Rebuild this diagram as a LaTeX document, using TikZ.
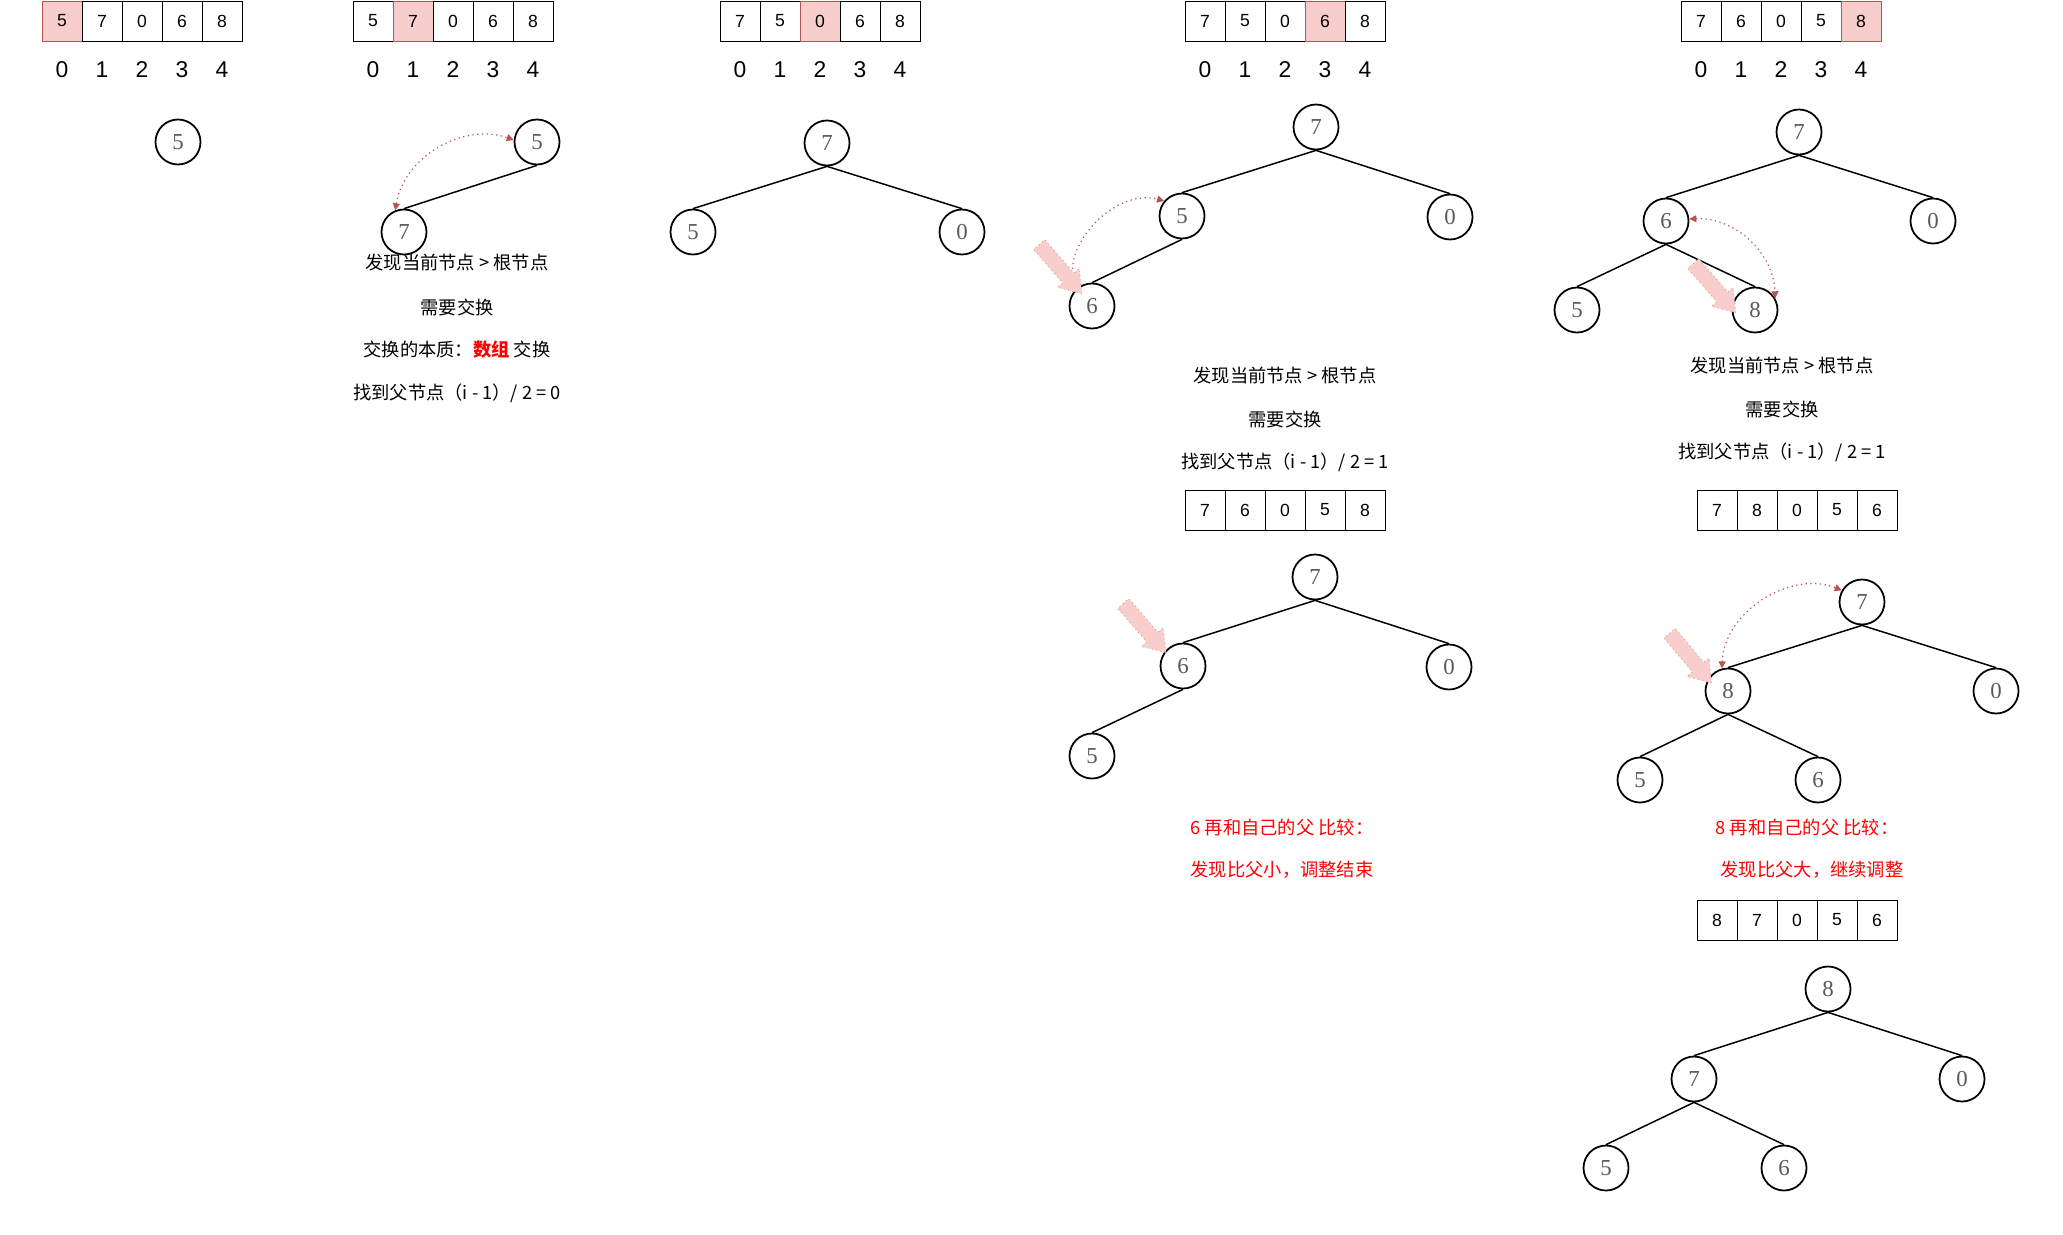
\documentclass[tikz,border=0pt]{standalone}
\usepackage{fontspec}
\setmainfont{Liberation Sans}
\newfontfamily\cjk{Noto Sans CJK SC}
\newfontfamily\numfont{Liberation Serif}
\usetikzlibrary{shapes.arrows, arrows.meta, positioning}
\definecolor{hlfill}{HTML}{F8CECC}
\definecolor{hlred}{HTML}{B85450}

\begin{document}
\begin{tikzpicture}[
  cell/.style={draw=black, line width=0.5pt, minimum width=0.8cm, minimum height=0.8cm,
               inner sep=0pt, outer sep=0pt, font=\fontsize{10}{12}\selectfont},
  cellhl/.style={cell, fill=hlfill, draw=hlred},
  idx/.style={font=\fontsize{13}{15}\selectfont, inner sep=0pt},
  heapnode/.style={circle, draw=black, line width=1pt, minimum size=0.9cm, inner sep=0pt,
                   font=\numfont\fontsize{13}{15}\selectfont, text=black!65},
  treeline/.style={draw=black, line width=0.85pt},
  swapline/.style={draw=hlred, dotted, line width=0.7pt,
                   {Triangle[length=4pt,width=4pt]}-{Triangle[length=4pt,width=4pt]}},
  hintarrow/.style={single arrow, fill=hlfill, draw=hlred!60, dotted, line width=0.5pt,
                    minimum height=1.3cm, inner xsep=0pt, inner ysep=0.14cm,
                    single arrow head extend=0.14cm, single arrow tip angle=70},
  note/.style={font=\cjk\fontsize{10.4}{12}\selectfont, inner sep=1pt},
  rednote/.style={note, text=red}
]
\useasboundingbox (0,0) rectangle (41.26,-24.68);

%--------------------------------------------------------------
% Array in alto con gli indici
%--------------------------------------------------------------
\foreach \v/\s [count=\i from 0] in {5/cellhl,7/cell,0/cell,6/cell,8/cell}
  \node[\s] (a1-\i) at (1.24+0.8*\i,-0.42) {\v};
\foreach \v/\s [count=\i from 0] in {5/cell,7/cellhl,0/cell,6/cell,8/cell}
  \node[\s] (a2-\i) at (7.46+0.8*\i,-0.42) {\v};
\foreach \v/\s [count=\i from 0] in {7/cell,5/cell,0/cellhl,6/cell,8/cell}
  \node[\s] (a3-\i) at (14.80+0.8*\i,-0.42) {\v};
\foreach \v/\s [count=\i from 0] in {7/cell,5/cell,0/cell,6/cellhl,8/cell}
  \node[\s] (a4-\i) at (24.10+0.8*\i,-0.42) {\v};
\foreach \v/\s [count=\i from 0] in {7/cell,6/cell,0/cell,5/cell,8/cellhl}
  \node[\s] (a5-\i) at (34.02+0.8*\i,-0.42) {\v};

\foreach \x [count=\k] in {1.24, 7.46, 14.80, 24.10, 34.02}{
  \foreach \i in {0,...,4}{ \node[idx] (i\k-\i) at (\x+0.8*\i,-1.40) {\i}; }
}

%--------------------------------------------------------------
% Array intermedi
%--------------------------------------------------------------
\foreach \v [count=\i from 0] in {7,6,0,5,8}
  \node[cell] (b4-\i) at (24.10+0.8*\i,-10.20) {\v};
\foreach \v [count=\i from 0] in {7,8,0,5,6}
  \node[cell] (b5-\i) at (34.34+0.8*\i,-10.20) {\v};
\foreach \v [count=\i from 0] in {8,7,0,5,6}
  \node[cell] (c5-\i) at (34.34+0.8*\i,-18.40) {\v};

%--------------------------------------------------------------
% Alberi (heap)
%--------------------------------------------------------------
\node[heapnode] (t1-0) at (3.56,-2.84) {5};

\node[heapnode] (t2-0) at (10.74,-2.84) {5};
\node[heapnode] (t2-1) at (8.08,-4.64) {7};

\node[heapnode] (t3-0) at (16.54,-2.86) {7};
\node[heapnode] (t3-1) at (13.86,-4.64) {5};
\node[heapnode] (t3-2) at (19.24,-4.64) {0};

\node[heapnode] (t4-0) at (26.32,-2.54) {7};
\node[heapnode] (t4-1) at (23.64,-4.32) {5};
\node[heapnode] (t4-2) at (29.00,-4.34) {0};
\node[heapnode] (t4-3) at (21.84,-6.12) {6};

\node[heapnode] (u4-0) at (26.30,-11.54) {7};
\node[heapnode] (u4-1) at (23.66,-13.32) {6};
\node[heapnode] (u4-2) at (28.98,-13.34) {0};
\node[heapnode] (u4-3) at (21.84,-15.12) {5};

\node[heapnode] (t5-0) at (35.98,-2.64) {7};
\node[heapnode] (t5-1) at (33.32,-4.42) {6};
\node[heapnode] (t5-2) at (38.66,-4.42) {0};
\node[heapnode] (t5-3) at (31.54,-6.20) {5};
\node[heapnode] (t5-4) at (35.10,-6.20) {8};

\node[heapnode] (u5-0) at (37.24,-12.04) {7};
\node[heapnode] (u5-1) at (34.56,-13.82) {8};
\node[heapnode] (u5-2) at (39.92,-13.82) {0};
\node[heapnode] (u5-3) at (32.80,-15.60) {5};
\node[heapnode] (u5-4) at (36.36,-15.60) {6};

\node[heapnode] (v5-0) at (36.56,-19.78) {8};
\node[heapnode] (v5-1) at (33.88,-21.58) {7};
\node[heapnode] (v5-2) at (39.24,-21.58) {0};
\node[heapnode] (v5-3) at (32.12,-23.36) {5};
\node[heapnode] (v5-4) at (35.68,-23.36) {6};

\foreach \a/\b in {t2-0/t2-1, t3-0/t3-1, t3-0/t3-2,
                   t4-0/t4-1, t4-0/t4-2, t4-1/t4-3,
                   u4-0/u4-1, u4-0/u4-2, u4-1/u4-3,
                   t5-0/t5-1, t5-0/t5-2, t5-1/t5-3, t5-1/t5-4,
                   u5-0/u5-1, u5-0/u5-2, u5-1/u5-3, u5-1/u5-4,
                   v5-0/v5-1, v5-0/v5-2, v5-1/v5-3, v5-1/v5-4}{
  \draw[treeline] (\a.south) -- (\b.north);
}

%--------------------------------------------------------------
% Scambi e frecce di evidenza
%--------------------------------------------------------------
\draw[swapline] (t2-1.112) to[bend left=50] (t2-0.175);
\draw[swapline] (t4-3.135) to[bend left=60] (t4-1.140);
\draw[swapline] (t5-1.5) to[bend left=45] (t5-4.30);
\draw[swapline] (u5-1.105) to[bend left=55] (u5-0.150);

\node[hintarrow, rotate=-49] (m4) at (21.14,-5.30) {};
\node[hintarrow, rotate=-49] (n4) at (22.82,-12.48) {};
\node[hintarrow, rotate=-49] (m5) at (34.22,-5.68) {};
\node[hintarrow, rotate=-50] (n5) at (33.74,-13.08) {};

%--------------------------------------------------------------
% Testi
%--------------------------------------------------------------
\node[note] (s2a) at (9.14,-5.26) {发现当前节点 > 根节点};
\node[note] (s2b) at (9.14,-6.14) {需要交换};
\node[note] (s2c) at (9.14,-7.00) {交换的本质：\textcolor{red}{\bfseries 数组} 交换};
\node[note] (s2d) at (9.14,-7.86) {找到父节点（i - 1）/ 2 = 0};

\node[note] (s4a) at (25.70,-7.52) {发现当前节点 > 根节点};
\node[note] (s4b) at (25.70,-8.38) {需要交换};
\node[note] (s4c) at (25.70,-9.24) {找到父节点（i - 1）/ 2 = 1};
\node[rednote] (r4a) at (25.64,-16.56) {6 再和自己的父 比较：};
\node[rednote] (r4b) at (25.64,-17.40) {发现比父小，调整结束};

\node[note] (s5a) at (35.64,-7.32) {发现当前节点 > 根节点};
\node[note] (s5b) at (35.64,-8.18) {需要交换};
\node[note] (s5c) at (35.64,-9.04) {找到父节点（i - 1）/ 2 = 1};
\node[rednote] (r5a) at (36.14,-16.56) {8 再和自己的父 比较：};
\node[rednote] (r5b) at (36.24,-17.40) {发现比父大，继续调整};

\end{tikzpicture}
\end{document}
